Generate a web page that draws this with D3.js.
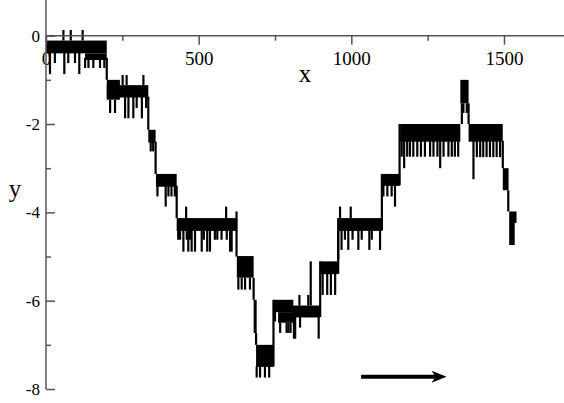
<!DOCTYPE html>
<html>
<head>
<meta charset="utf-8">
<script src="https://cdn.jsdelivr.net/npm/d3@7"></script>
<style>
    body { margin: 0; background: #fff; }
    .axis line { stroke: #555; stroke-width: 1.5; }
</style>
</head>
<body>
<div id="chart"></div>
<script>
// plateaus of the trace: [xStart, xEnd, yTop, yBottom]
var bands = [
    [0, 199, -0.11, -0.4],
    [128, 199, -0.4, -0.55],
    [199, 242, -1.0, -1.45],
    [199, 335, -1.12, -1.4],
    [335, 359, -2.13, -2.42],
    [360, 428, -3.13, -3.42],
    [428, 626, -4.13, -4.42],
    [625, 680, -4.99, -5.48],
    [680, 690, -5.98, -6.73],
    [688, 745, -7.0, -7.5],
    [745, 810, -5.98, -6.26],
    [760, 810, -6.26, -6.5],
    [809, 898, -6.11, -6.38],
    [897, 957, -5.11, -5.4],
    [957, 1102, -4.13, -4.42],
    [1102, 1160, -3.13, -3.4],
    [1160, 1357, -2.0, -2.4],
    [1357, 1384, -1.0, -1.53],
    [1384, 1496, -2.0, -2.4],
    [1496, 1515, -3.0, -3.5],
    [1517, 1541, -3.98, -4.24],
    [1517, 1535, -4.24, -4.74]
];

// single excursions and jumps of the trace: [x, yFrom, yTo]
var strokes = [
    [57, -0.11, 0.13], [81, -0.11, 0.13], [120, -0.11, 0.13],
    [13, -0.39, -0.87], [29, -0.39, -0.62], [60, -0.39, -0.87], [73, -0.39, -0.62],
    [95, -0.39, -0.62], [109, -0.39, -0.87], [128, -0.5, -0.73], [139, -0.5, -0.73],
    [155, -0.5, -0.73], [177, -0.5, -0.73], [191, -0.5, -0.73],
    [199, -0.5, -1.0],
    [251, -1.12, -0.89], [264, -1.12, -0.89], [319, -1.12, -0.89],
    [210, -1.45, -1.75], [226, -1.45, -1.75], [259, -1.38, -1.87], [270, -1.38, -1.87],
    [286, -1.38, -1.87], [297, -1.38, -1.64], [314, -1.38, -1.87], [328, -1.38, -1.64],
    [335, -1.38, -2.13],
    [343, -2.4, -2.62], [351, -2.4, -2.62],
    [359, -2.4, -3.13],
    [365, -3.4, -3.64], [392, -3.4, -3.87], [401, -3.4, -3.64], [411, -3.4, -3.64], [422, -3.4, -3.64],
    [428, -3.4, -4.13],
    [459, -4.13, -3.87], [590, -4.13, -3.87],
    [433, -4.4, -4.62], [439, -4.4, -4.62], [450, -4.4, -4.89], [461, -4.4, -4.62],
    [466, -4.4, -4.89], [472, -4.4, -4.62], [477, -4.4, -4.89], [488, -4.4, -4.89],
    [510, -4.4, -4.89], [517, -4.4, -4.62], [528, -4.4, -4.89], [537, -4.4, -4.89],
    [553, -4.4, -4.62], [561, -4.4, -4.62], [575, -4.4, -4.62], [592, -4.4, -4.62],
    [603, -4.4, -4.89], [608, -4.4, -4.89],
    [624, -3.98, -5.0],
    [630, -5.48, -5.75], [641, -5.48, -5.75], [652, -5.48, -5.75], [668, -5.48, -5.75],
    [680, -5.48, -5.98], [688, -6.73, -7.0],
    [690, -7.49, -7.74], [701, -7.49, -7.74], [717, -7.49, -7.74], [731, -7.49, -7.74],
    [745, -7.49, -5.98],
    [750, -6.24, -6.47], [767, -6.5, -6.73], [788, -6.5, -6.73], [794, -6.5, -6.73],
    [801, -6.5, -6.73], [812, -6.37, -6.86],
    [830, -6.11, -5.87], [859, -6.11, -5.87], [867, -6.11, -5.11],
    [816, -6.37, -6.86], [832, -6.37, -6.61], [893, -6.37, -6.86],
    [898, -6.37, -5.11],
    [906, -5.39, -5.87], [921, -5.39, -5.87], [933, -5.39, -5.87], [947, -5.39, -5.87],
    [957, -5.39, -4.13],
    [963, -4.13, -3.87], [998, -4.13, -3.87],
    [957, -4.4, -5.07], [968, -4.4, -4.85], [979, -4.4, -4.62], [990, -4.4, -4.85],
    [1004, -4.4, -4.62], [1023, -4.4, -4.85], [1034, -4.4, -4.62], [1059, -4.4, -4.85],
    [1067, -4.4, -4.62], [1094, -4.4, -4.85],
    [1100, -4.4, -3.13],
    [1105, -3.38, -3.64], [1118, -3.38, -3.64], [1132, -3.38, -3.64], [1143, -3.38, -3.87],
    [1158, -3.38, -2.0],
    [1165, -2.38, -2.74], [1173, -2.38, -3.0], [1183, -2.38, -2.74], [1192, -2.38, -2.74],
    [1203, -2.38, -2.74], [1216, -2.38, -2.74], [1228, -2.38, -2.74], [1241, -2.38, -2.74],
    [1258, -2.38, -2.74], [1269, -2.38, -2.74], [1282, -2.38, -2.74], [1291, -2.38, -3.0],
    [1302, -2.38, -2.74], [1318, -2.38, -2.74], [1329, -2.38, -2.74], [1339, -2.38, -2.74],
    [1350, -2.38, -2.74],
    [1362, -1.53, -2.0], [1367, -1.53, -1.75], [1378, -1.53, -1.75],
    [1384, -1.53, -2.0],
    [1400, -2.38, -3.25], [1411, -2.38, -2.75], [1422, -2.38, -2.75], [1432, -2.38, -2.75],
    [1443, -2.38, -2.75], [1454, -2.38, -2.75], [1465, -2.38, -2.75], [1476, -2.38, -2.75],
    [1487, -2.38, -2.75],
    [1496, -2.38, -3.0],
    [1514, -3.5, -3.98]
];

var xMajor = [0, 500, 1000, 1500];
var xMinor = [250, 750, 1250];
var yMajor = [0, -2, -4, -6, -8];
var yMinor = [-1, -3, -5, -7];

// arrow annotation in data units: [x, y]
var arrowFrom = [1032, -7.72];
var arrowTo = [1312, -7.72];

var width = 564,
    height = 403;

var serif = "Liberation Serif";

var x = d3.scaleLinear().domain([0, 1500]).range([46, 504]);
var y = d3.scaleLinear().domain([-8, 0]).range([389, 35.7]);

var svg = d3.select("#chart")
    .append("svg")
    .attr("width", width)
    .attr("height", height)
    .attr("font-family", serif);

// trace
svg.append("g")
    .selectAll("rect")
    .data(bands)
    .enter()
    .append("rect")
    .attr("x", d => x(d[0]))
    .attr("width", d => x(d[1]) - x(d[0]))
    .attr("y", d => y(d[2]))
    .attr("height", d => y(d[3]) - y(d[2]))
    .style("fill", "#000");

svg.append("g")
    .selectAll("line")
    .data(strokes)
    .enter()
    .append("line")
    .attr("x1", d => x(d[0]))
    .attr("x2", d => x(d[0]))
    .attr("y1", d => y(d[1]))
    .attr("y2", d => y(d[2]))
    .style("stroke", "#000")
    .style("stroke-width", 2.2);

// axes
var xAxis = d3.axisBottom(x).tickValues(xMajor).tickSize(9).tickPadding(7).tickFormat(d3.format("d"));
var xAxisMinor = d3.axisBottom(x).tickValues(xMinor).tickSize(5).tickFormat("");
var yAxis = d3.axisLeft(y).tickValues(yMajor).tickSizeInner(-9).tickSizeOuter(0).tickPadding(6)
    .tickFormat(d => String(d));
var yAxisMinor = d3.axisLeft(y).tickValues(yMinor).tickSizeInner(-5).tickSizeOuter(0).tickFormat("");

svg.append("g")
    .attr("class", "axis")
    .attr("transform", "translate(0," + y(0) + ")")
    .call(xAxis)
    .attr("font-family", serif)
    .attr("font-size", 19)
    .call(g => g.selectAll("text").attr("fill", "#000"));

svg.append("g")
    .attr("class", "axis")
    .attr("transform", "translate(0," + y(0) + ")")
    .call(xAxisMinor);

svg.append("g")
    .attr("class", "axis")
    .attr("transform", "translate(" + x(0) + ",0)")
    .call(yAxis)
    .attr("font-family", serif)
    .attr("font-size", 17)
    .call(g => g.selectAll("text").attr("fill", "#000"));

svg.append("g")
    .attr("class", "axis")
    .attr("transform", "translate(" + x(0) + ",0)")
    .call(yAxisMinor);

svg.selectAll(".axis .domain").remove();

// axis lines
svg.append("line")
    .attr("x1", x(0)).attr("x2", width)
    .attr("y1", y(0)).attr("y2", y(0))
    .style("stroke", "#555").style("stroke-width", 1.5);

svg.append("line")
    .attr("x1", x(0)).attr("x2", x(0))
    .attr("y1", 0).attr("y2", y(-8))
    .style("stroke", "#555").style("stroke-width", 1.5);

// axis titles
svg.append("text")
    .attr("x", 305)
    .attr("y", 82)
    .attr("text-anchor", "middle")
    .attr("font-size", 25)
    .text("x");

svg.append("text")
    .attr("x", 15)
    .attr("y", 197)
    .attr("text-anchor", "middle")
    .attr("font-size", 25)
    .text("y");

// arrow
svg.append("line")
    .attr("x1", x(arrowFrom[0]))
    .attr("x2", x(arrowTo[0]) - 10)
    .attr("y1", y(arrowFrom[1]))
    .attr("y2", y(arrowTo[1]))
    .style("stroke", "#000")
    .style("stroke-width", 4);

svg.append("path")
    .attr("d", "M" + x(arrowTo[0]) + "," + y(arrowTo[1])
        + "L" + (x(arrowTo[0]) - 15) + "," + (y(arrowTo[1]) - 6)
        + "L" + (x(arrowTo[0]) - 11) + "," + y(arrowTo[1])
        + "L" + (x(arrowTo[0]) - 15) + "," + (y(arrowTo[1]) + 6) + "Z")
    .style("fill", "#000");
</script>
</body>
</html>
